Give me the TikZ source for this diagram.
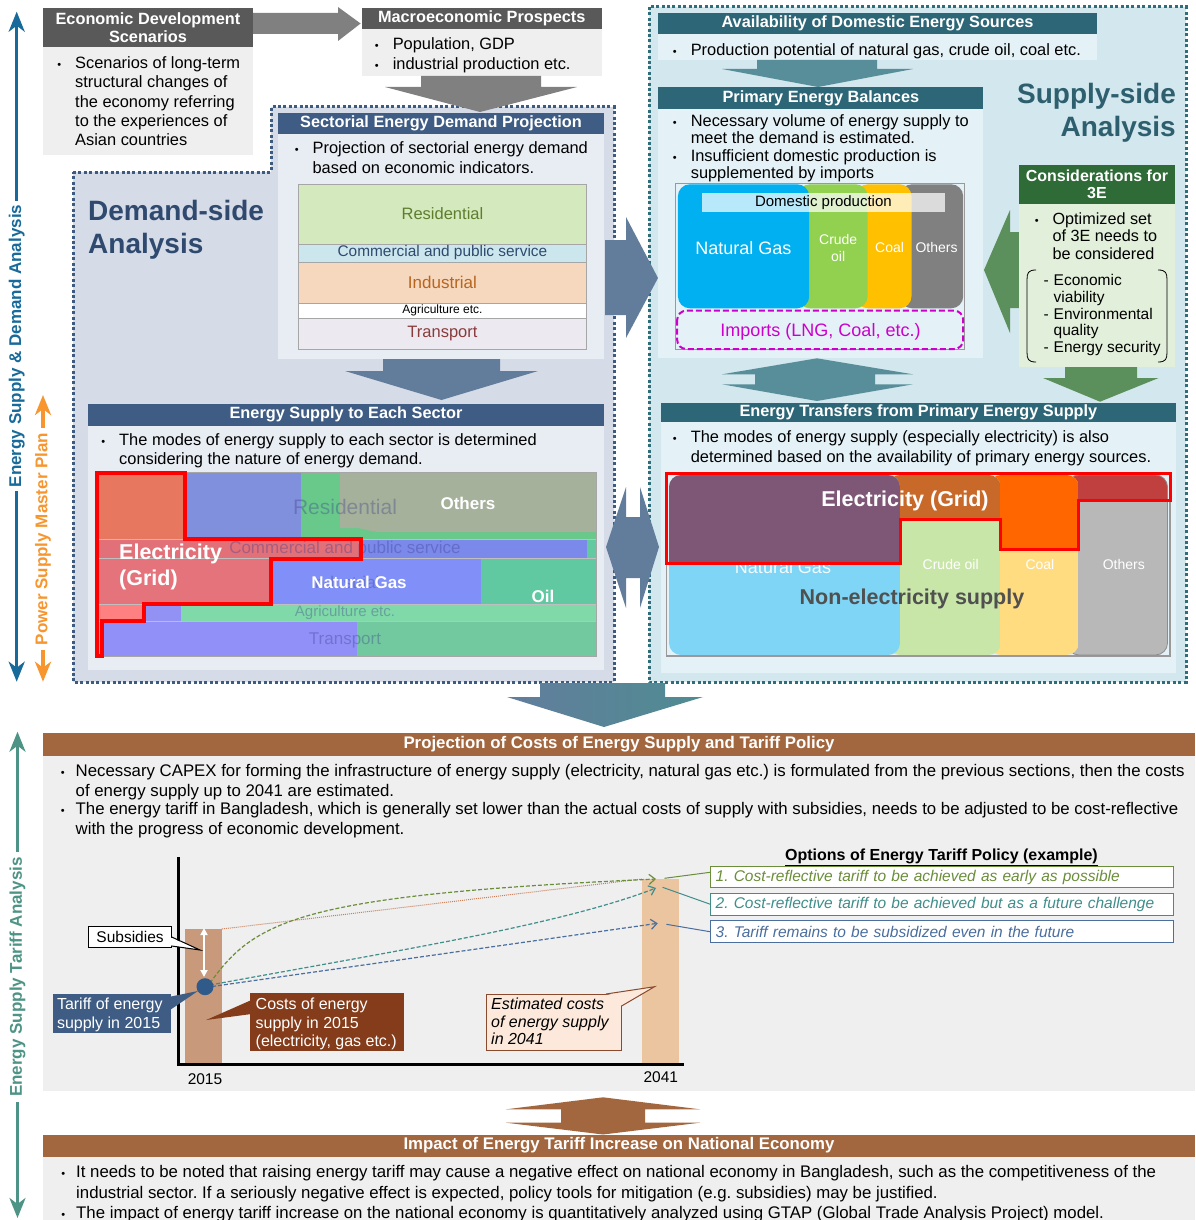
\documentclass[tikz,border=0pt]{standalone}
\usepackage{fontspec}
\setmainfont{Liberation Sans}
\usetikzlibrary{arrows.meta,calc}
\frenchspacing
\newcommand\myfs[2]{\fontsize{#1}{#2}\selectfont}
\newcommand\bul{\llap{{\myfs{11}{11}\textbullet}\hspace{14pt}}}
\newcommand\bulb{\llap{{\myfs{11}{11}\textbullet}\hspace{11pt}}}
\newcommand\dsh{\llap{-\hspace{5pt}}}
\definecolor{hdrgray}{HTML}{595959}
\definecolor{bodygray}{HTML}{EFEFEF}
\definecolor{agray}{HTML}{808080}
\definecolor{demhdr}{HTML}{3E5C84}
\definecolor{dembg}{HTML}{D5DCE8}
\definecolor{dembody}{HTML}{E8ECF3}
\definecolor{demtext}{HTML}{2F4A6E}
\definecolor{demdot}{HTML}{3D5A80}
\definecolor{suphdr}{HTML}{2D6777}
\definecolor{supbg}{HTML}{D2E7EE}
\definecolor{supbody}{HTML}{E4F1F7}
\definecolor{suptext}{HTML}{2E5F6E}
\definecolor{supdot}{HTML}{2E6E7A}
\definecolor{slate}{HTML}{627D9C}
\definecolor{slate2}{HTML}{4F8C92}
\definecolor{tealarr}{HTML}{588E99}
\definecolor{greenarr}{HTML}{5B8F5B}
\definecolor{greenhdr}{HTML}{2E6B37}
\definecolor{greenbody}{HTML}{E2EFDA}
\definecolor{brownh}{HTML}{A3673F}
\definecolor{browndk}{HTML}{843C1A}
\definecolor{bar1}{HTML}{C8997A}
\definecolor{bar2}{HTML}{EBC4A0}
\definecolor{peach}{HTML}{FCE9DC}
\definecolor{peachbd}{HTML}{8B4A2B}
\definecolor{axisblue}{HTML}{176A9A}
\definecolor{axisorange}{HTML}{F7962F}
\definecolor{axisteal}{HTML}{4E9486}
\definecolor{optgreen}{HTML}{6B8E3A}
\definecolor{optteal}{HTML}{3F8E8A}
\definecolor{optblue}{HTML}{4A6E9E}
\definecolor{dotblue}{HTML}{2F5A8A}
\definecolor{brdot}{HTML}{C87F5A}
\definecolor{ngcyan}{HTML}{00B0F0}
\definecolor{oilgreen}{HTML}{92D050}
\definecolor{coalyel}{HTML}{FFC000}
\definecolor{magent}{HTML}{CC00CC}
\definecolor{fainttx}{HTML}{3A3A8A}
\begin{document}
\begin{tikzpicture}[x=1pt,y=-1pt,
  box/.style={rectangle,inner sep=0pt,outer sep=0pt,anchor=north west},
  hdr/.style={box,text=white,font=\bfseries\myfs{16.3}{18},align=center},
  hdrb/.style={box,text=white,font=\bfseries\myfs{16.8}{19},align=center},
  para/.style={anchor=north west,inner sep=0pt,align=left,font=\myfs{16.4}{19.5}},
  lbl/.style={inner sep=0pt,font=\myfs{16}{19}},
  faint/.style={inner sep=0pt,text=fainttx,text opacity=0.35},
  dotborder/.style={line width=3pt,dash pattern=on 3pt off 2.4pt},
  axarrow/.style={line width=3.2pt,-{Stealth[length=20pt,width=16pt,inset=6pt]}},
  axlabel/.style={inner sep=0pt,rotate=90,font=\bfseries\myfs{17}{20}},
  curvetip/.style={-{Straight Barb[length=6pt,width=10pt]}}
]
\useasboundingbox (0,0) rectangle (1195,1220);
\fill[white] (0,0) rectangle (1195,1220);

% ===== regions =====
\path[fill=dembg, draw=demdot, dotborder] (73,172) -- (271,172) -- (271,107) -- (614,107) -- (614,682) -- (73,682) -- cycle;
\path[fill=supbg, draw=supdot, dotborder] (649,7) rectangle (1186,682);

% ===== Economic development scenarios =====
\node[hdr, fill=hdrgray, minimum width=210pt, minimum height=39pt] (econh) at (43,8) {Economic Development\\Scenarios};
\node[box, fill=bodygray, minimum width=210pt, minimum height=108pt] (econb) at (43,47) {};
\node[para, font=\myfs{16.4}{19.4}] (econt) at (75,54.6) {\bul\strut Scenarios of long-term\\structural changes of\\the economy referring\\to the experiences of\\Asian countries};

% ===== Macroeconomic prospects =====
\node[hdr, fill=hdrgray, minimum width=239.5pt, minimum height=21pt] (macroh) at (362,8) {Macroeconomic Prospects};
\node[box, fill=bodygray, minimum width=239.5pt, minimum height=47pt] (macrob) at (362,29) {};
\node[para, font=\myfs{16.4}{20}] (macrot) at (392.6,35.5) {\bul\strut Population, GDP\\\bul industrial production etc.};

% gray arrows
\fill[agray] (253,13) -- (338,13) -- (338,7) -- (360.6,23.5) -- (338,41) -- (338,34) -- (253,34) -- cycle;
\fill[agray] (421,76) -- (541,76) -- (541,87) -- (577,87) -- (480,112) -- (385,87) -- (421,87) -- cycle;

% ===== Sectorial energy demand projection =====
\node[hdr, fill=demhdr, minimum width=326pt, minimum height=21pt] (sech) at (278,113) {Sectorial Energy Demand Projection};
\node[box, fill=dembody, minimum width=326pt, minimum height=225pt] (secb) at (278,134) {};
\node[para, font=\myfs{16.4}{19.6}] (sect) at (312.4,139.5) {\bul\strut Projection of sectorial energy demand\\based on economic indicators.};
\node[box, fill={rgb,255:red,212;green,233;blue,189}, draw=black!35, minimum width=287.9pt, minimum height=60pt, text={rgb,255:red,94;green,126;blue,46}, font=\myfs{16.5}{19}] (bres) at (298.5,183.7) {Residential};
\node[box, fill={rgb,255:red,204;green,230;blue,238}, draw=black!35, minimum width=287.9pt, minimum height=18pt, text=demtext, font=\myfs{15.4}{18}] (bcom) at (298.5,243.7) {\raisebox{-1.5pt}{Commercial and public service}};
\node[box, fill={rgb,255:red,246;green,216;blue,190}, draw=black!35, minimum width=287.9pt, minimum height=41pt, text={rgb,255:red,184;green,101;blue,30}, font=\myfs{17}{19}] (bind) at (298.5,261.7) {Industrial};
\node[box, fill=white, draw=black!35, minimum width=287.9pt, minimum height=15pt, font=\myfs{12}{14}] (bagr) at (298.5,302.7) {Agriculture etc.};
\node[box, fill={rgb,255:red,236;green,233;blue,240}, draw=black!35, minimum width=287.9pt, minimum height=31.6pt, text={rgb,255:red,138;green,59;blue,59}, font=\myfs{16.5}{19}] (btra) at (298.5,317.7) {Transport};

% slate down arrow
\fill[slate] (383,359) -- (500,359) -- (500,371) -- (538,371) -- (441.5,400) -- (345,371) -- (383,371) -- cycle;

% Demand-side label
\node[para, text=demtext, font=\bfseries\myfs{28}{33.3}] (demlbl) at (88,196.7) {\strut Demand-side\\Analysis};

% ===== Energy supply to each sector =====
\node[hdr, fill=demhdr, minimum width=516pt, minimum height=22pt] (esh) at (88,403.5) {Energy Supply to Each Sector};
\node[box, fill=dembody, minimum width=516pt, minimum height=244.5pt] (esb) at (88,425.5) {};
\node[para, font=\myfs{16.4}{18.5}] (est) at (119,432.5) {\bul\strut The modes of energy supply to each sector is determined\\considering the nature of energy demand.};

% chart (demand)
\fill[fill={rgb,255:red,232;green,119;blue,95}] (96,472) rectangle (185,539);
\fill[fill={rgb,255:red,129;green,144;blue,220}] (185,472) rectangle (301,539);
\fill[fill={rgb,255:red,104;green,201;blue,138}] (301,472) rectangle (596,539);
\fill[fill={rgb,255:red,165;green,177;blue,154}] (340,472) -- (596,472) -- (596,532) -- (380,532) .. controls (370,532) and (364,528) .. (356,528) -- (340,528) -- cycle;
\fill[fill={rgb,255:red,226;green,112;blue,121}] (96,539) rectangle (361,558);
\fill[fill={rgb,255:red,123;green,137;blue,234}] (361,539) rectangle (587,558);
\fill[fill={rgb,255:red,98;green,201;blue,160}] (587,539) rectangle (596,558);
\fill[fill={rgb,255:red,228;green,115;blue,124}] (96,558) rectangle (271,604);
\fill[fill={rgb,255:red,128;green,144;blue,248}] (271,558) rectangle (481,604);
\fill[fill={rgb,255:red,96;green,201;blue,162}] (481,558) rectangle (596,604);
\fill[fill={rgb,255:red,255;green,128;blue,128}] (96,604) rectangle (144,621);
\fill[fill={rgb,255:red,146;green,146;blue,244}] (144,604) rectangle (181,621);
\fill[fill={rgb,255:red,128;green,217;blue,168}] (181,604) rectangle (596,621);
\fill[fill={rgb,255:red,255;green,128;blue,128}] (96,621) rectangle (102,656);
\fill[fill={rgb,255:red,144;green,144;blue,248}] (102,621) rectangle (357,656);
\fill[fill={rgb,255:red,114;green,201;blue,160}] (357,621) rectangle (596,656);
\draw[black!25, line width=0.6pt] (96,539) -- (596,539) (96,558) -- (596,558) (96,604) -- (596,604) (96,621) -- (596,621);
\draw[black!35, line width=0.8pt] (96,472) rectangle (596,656);
\node[faint, font=\myfs{21}{24}] (fres) at (345,507) {Residential};
\node[faint, font=\myfs{17}{20}] (fcom) at (345,549) {Commercial and public service};
\node[faint, font=\myfs{17}{20}] (find) at (345,582) {Industrial};
\node[faint, font=\myfs{15}{18}] (fagr) at (345,613) {Agriculture etc.};
\node[faint, font=\myfs{17}{20}] (ftra) at (345,640) {Transport};
\draw[red, line width=3.5pt, line join=miter] (97,473) -- (185,473) -- (185,539) -- (361,539) -- (361,559) -- (271,559) -- (271,604) -- (144,604) -- (144,621) -- (102,621) -- (102,656) -- (97,656) -- cycle;
\node[para, text=white, font=\bfseries\myfs{21.5}{26}] (delec) at (119,541) {\strut Electricity\\(Grid)};
\node[lbl, text=white, font=\bfseries\myfs{17}{20}] (dng) at (359,582) {Natural Gas};
\node[lbl, text=white, font=\bfseries\myfs{17}{20}] (doil) at (543,596) {Oil};
\node[lbl, text=white, font=\bfseries\myfs{17}{20}] (doth) at (468,503) {Others};

% connecting arrows between demand and supply
\fill[slate] (605,240) -- (626,240) -- (626,217) -- (658,278) -- (626,338) -- (626,315) -- (605,315) -- cycle;
\fill[slate] (606,547) -- (626,487) -- (626,517) -- (640,517) -- (640,487) -- (659,547) -- (640,608) -- (640,578) -- (626,578) -- (626,608) -- cycle;

% ===== Supply side =====
\node[hdr, fill=suphdr, minimum width=438.2pt, minimum height=21.6pt] (avh) at (658.4,12.7) {Availability of Domestic Energy Sources};
\node[box, fill=supbody, minimum width=438.2pt, minimum height=25.7pt] (avb) at (658.4,34.3) {};
\node[para] (avt) at (690.6,41.2) {\bul\strut Production potential of natural gas, crude oil, coal etc.};
\fill[tealarr] (757,60) -- (877,60) -- (877,69) -- (913,69) -- (818,87) -- (722,69) -- (757,69) -- cycle;

\node[hdr, fill=suphdr, minimum width=325pt, minimum height=21.7pt] (pebh) at (658.4,87.3) {Primary Energy Balances};
\node[box, fill=supbody, minimum width=325pt, minimum height=249pt] (pebb) at (658.4,109) {};
\node[para, font=\myfs{16.4}{17.5}] (pebt) at (690.6,114) {\bul\strut Necessary volume of energy supply to\\meet the demand is estimated.\\\bul Insufficient domestic production is\\supplemented by imports};
\draw[black!40, line width=0.8pt] (675.4,183.3) rectangle (963.9,349.3);
\fill[agray, rounded corners=12pt] (900,184.3) rectangle (963.2,308.3);
\fill[coalyel, rounded corners=12pt] (856,184.3) rectangle (911.5,308.3);
\fill[oilgreen, rounded corners=12pt] (798,184.3) rectangle (867.6,308.3);
\fill[ngcyan, rounded corners=12pt] (677.9,184.3) rectangle (809.2,308.3);
\fill[white, opacity=0.72] (702,193.3) rectangle (945,211.7);
\node[lbl, font=\myfs{15}{18}] (dprod) at (823.4,203) {Domestic production};
\node[lbl, text=white, font=\myfs{18}{21}] (png) at (743.4,247.7) {Natural Gas};
\node[lbl, text=white, font=\myfs{14}{17.7}, align=center] (poil) at (838.2,248) {Crude\\oil};
\node[lbl, text=white, font=\myfs{14}{17}] (pcoal) at (889.6,247.3) {Coal};
\node[lbl, text=white, font=\myfs{14}{17}] (poth) at (936.6,247.3) {Others};
\draw[magent, line width=2pt, dash pattern=on 6pt off 3pt, rounded corners=9pt] (677.2,310.7) rectangle (963.2,349);
\node[lbl, text=magent, font=\myfs{18}{21}] (pimp) at (820.5,331.7) {Imports (LNG, Coal, etc.)};

\node[para, anchor=north east, align=right, text=suptext, font=\bfseries\myfs{28}{33.4}] (suplbl) at (1176,79.9) {\strut Supply-side\\Analysis};

% considerations
\fill[greenarr] (984,270) -- (1010,210) -- (1010,232) -- (1020,232) -- (1020,308) -- (1010,308) -- (1010,333) -- cycle;
\node[hdr, fill=greenhdr, minimum width=156.2pt, minimum height=39pt, font=\bfseries\myfs{16}{17}] (conh) at (1018.8,165) {Considerations for\\3E};
\node[box, fill=greenbody, minimum width=156.2pt, minimum height=163pt] (conb) at (1018.8,204) {};
\node[para, font=\myfs{16.2}{17.5}] (cont) at (1052.4,211.8) {\bul\strut Optimized set\\of 3E needs to\\be considered};
\node[para, font=\myfs{15.5}{16.7}] (coni) at (1053.5,274) {\dsh\strut Economic\\viability\\\dsh Environmental\\quality\\\dsh Energy security};
\draw[line width=0.8pt] (1036,270) .. controls (1028,270) and (1027,273) .. (1027,280) -- (1027,352) .. controls (1027,359) and (1028,362) .. (1036,362);
\draw[line width=0.8pt] (1158,270) .. controls (1166,270) and (1167,273) .. (1167,280) -- (1167,352) .. controls (1167,359) and (1166,362) .. (1158,362);
\fill[greenarr] (1065,367) -- (1137,367) -- (1137,378) -- (1158.6,378) -- (1100,401.7) -- (1043,378) -- (1065,378) -- cycle;

% up-down teal arrow
\fill[tealarr] (817,358.3) -- (913,374.3) -- (875,374.3) -- (875,384.3) -- (913,384.3) -- (817,401) -- (722,384.3) -- (755,384.3) -- (755,374.3) -- (722,374.3) -- cycle;

% energy transfers
\node[hdr, fill=suphdr, minimum width=515.8pt, minimum height=19pt] (eth) at (660.5,403) {Energy Transfers from Primary Energy Supply};
\node[box, fill=supbody, minimum width=515.8pt, minimum height=251pt] (etb) at (660.5,422) {};
\node[para, font=\myfs{16.4}{20}] (ett) at (690.6,428.2) {\bul\strut The modes of energy supply (especially electricity) is also\\determined based on the availability of primary energy sources.};
\draw[black!40, line width=1.2pt] (666.4,474) rectangle (1170,656);
\begin{scope}
\clip[rounded corners=12pt] (1067,475) rectangle (1167.5,655);
\fill[fill={rgb,255:red,184;green,184;blue,184}] (1067,475) rectangle (1167.5,655);
\fill[fill={rgb,255:red,192;green,64;blue,64}] (1067,475) rectangle (1167.5,500.7);
\end{scope}
\draw[black!45, line width=0.8pt, rounded corners=12pt] (1067,475) rectangle (1167.5,655);
\begin{scope}
\clip[rounded corners=12pt] (989,475) rectangle (1078.7,655);
\fill[fill={rgb,255:red,255;green,220;blue,127}] (989,475) rectangle (1078.7,655);
\fill[fill={rgb,255:red,255;green,102;blue,0}] (989,475) rectangle (1078.7,549.3);
\end{scope}
\begin{scope}
\clip[rounded corners=12pt] (888,475) rectangle (1000.7,655);
\fill[fill={rgb,255:red,201;green,230;blue,169}] (888,475) rectangle (1000.7,655);
\fill[fill={rgb,255:red,200;green,105;blue,42}] (888,475) rectangle (1000.7,519.3);
\end{scope}
\begin{scope}
\clip[rounded corners=12pt] (669,475) rectangle (900,655);
\fill[fill={rgb,255:red,126;green,213;blue,246}] (669,475) rectangle (900,655);
\node[lbl, text=white, text opacity=0.9, font=\myfs{18}{21}] (tng) at (783,567) {Natural Gas};
\fill[fill={rgb,255:red,126;green,86;blue,118}] (669,475) rectangle (900,563.3);
\end{scope}
\draw[red, line width=3pt, line join=miter] (666.4,473.3) -- (1170,473.3) -- (1170,500.7) -- (1078.7,500.7) -- (1078.7,549.3) -- (1000.7,549.3) -- (1000.7,519.3) -- (900,519.3) -- (900,563.3) -- (666.4,563.3) -- cycle;
\node[lbl, text=white, font=\bfseries\myfs{21.5}{25}] (telec) at (905,501) {Electricity (Grid)};
\node[lbl, text=white, font=\myfs{14}{17}] (toil) at (950.7,564.3) {Crude oil};
\node[lbl, text=white, font=\myfs{14}{17}] (tcoal) at (1039.9,564.3) {Coal};
\node[lbl, text=white, font=\myfs{14}{17}] (toth) at (1123.8,564.3) {Others};
\node[lbl, text={rgb,255:red,80;green,80;blue,80}, font=\bfseries\myfs{21.5}{25}] (tnon) at (912,599) {Non-electricity supply};

% big gradient arrow
\shade[left color=slate, right color=slate2] (540,683) -- (665,683) -- (665,697) -- (703,697) -- (604,727) -- (507,697) -- (540,697) -- cycle;

% ===== Projection of costs =====
\node[hdrb, fill=brownh, minimum width=1152pt, minimum height=22.5pt] (projh) at (43,733) {Projection of Costs of Energy Supply and Tariff Policy};
\node[box, fill=bodygray, minimum width=1152pt, minimum height=335.5pt] (projb) at (43,755.5) {};
\node[para, font=\myfs{16.8}{20}] (projt1) at (75.5,762.2) {\bulb\strut Necessary CAPEX for forming the infrastructure of energy supply (electricity, natural gas etc.) is formulated from the previous sections, then the costs\\of energy supply up to 2041 are estimated.};
\node[para, font=\myfs{16.8}{20}] (projt2) at (75.5,800.5) {\bulb\strut The energy tariff in Bangladesh, which is generally set lower than the actual costs of supply with subsidies, needs to be adjusted to be cost-reflective\\with the progress of economic development.};

% chart
\fill[bar1] (185.2,929) rectangle (221.8,1064);
\fill[bar2] (641.8,879) rectangle (679,1064);
\draw[brdot, line width=1pt, dash pattern=on 1pt off 1pt] (221.8,929) -- (641.8,879);
\draw[optgreen, line width=1.2pt, dash pattern=on 4pt off 2pt, curvetip] (210,983) .. controls (255,920) and (300,895) .. (656,879);
\draw[optteal, line width=1.2pt, dash pattern=on 4pt off 2pt, curvetip] (210,985) .. controls (400,950) and (560,925) .. (656,888);
\draw[optblue, line width=1.2pt, dash pattern=on 4pt off 2pt, curvetip] (212,986.5) -- (657.8,923.3);
\draw[white, line width=1.8pt, {Triangle[length=7pt,width=7pt]}-{Triangle[length=7pt,width=7pt]}] (204,928) -- (204,977);
\node[circle, fill=dotblue, minimum size=17pt, inner sep=0pt] (dot) at (205,986.7) {};
\node[lbl, font=\myfs{15.5}{18}] (y2015) at (205,1079.3) {2015};
\node[lbl, font=\myfs{15.5}{18}] (y2041) at (660.8,1077) {2041};
\draw[line width=3pt] (178,857) -- (178,1064) -- (684,1064);

% callouts
\node[box, draw=black, fill=white, line width=1pt, minimum width=83.3pt, minimum height=21pt, font=\myfs{15.5}{18}] (subs) at (88.4,926.7) {Subsidies};
\fill[white] (170.5,937.5) -- (200,950) -- (170.5,945.5) -- cycle;
\draw[line width=1pt] (171.7,937) -- (200,950) -- (171.7,946);

\node[box, fill=demhdr, minimum width=118.7pt, minimum height=38.7pt] (tarb) at (52.6,994) {};
\fill[demhdr] (170,996.7) -- (198,991) -- (170,1010) -- cycle;
\node[para, text=white, font=\myfs{16}{18.4}] (tart) at (56.8,996.9) {\strut Tariff of energy\\supply in 2015};

\node[box, fill=browndk, minimum width=153.6pt, minimum height=57.4pt] (costb) at (250.4,993.3) {};
\fill[browndk] (251.5,1000) -- (206.2,1020) -- (251.5,1014) -- cycle;
\node[para, text=white, font=\myfs{16}{18.35}] (costt) at (255.5,996.7) {\strut Costs of energy\\supply in 2015\\(electricity, gas etc.)};

\node[box, fill=peach, draw=peachbd, line width=1pt, minimum width=135.6pt, minimum height=56.7pt] (estb) at (486,994) {};
\fill[peach] (606,995) -- (654.5,986.7) -- (620.6,1006) -- (620.6,995) -- cycle;
\draw[peachbd, line width=1pt] (606,994) -- (654.5,986.7) -- (621.6,1006);
\node[para, font=\itshape\myfs{16}{17.6}] (estt) at (491,997.2) {\strut Estimated costs\\of energy supply\\in 2041};

% options
\node[inner sep=0pt, font=\bfseries\myfs{16}{19}] (optt) at (941.5,857) {\underline{Options of Energy Tariff Policy (example)}};
\node[box, draw=optgreen, fill=white, line width=1pt, minimum width=463.8pt, minimum height=21pt, text width=452.4pt, inner xsep=5.7pt, align=left, text=optgreen, font=\itshape\myfs{15.5}{18}] (opt1) at (710,866.7) {1. Cost-reflective tariff to be achieved as early as possible};
\node[box, draw=optteal, fill=white, line width=1pt, minimum width=463.8pt, minimum height=21.7pt, text width=452.4pt, inner xsep=5.7pt, align=left, text=optteal, font=\itshape\myfs{15.5}{18}] (opt2) at (710,893.3) {2. Cost-reflective tariff to be achieved but as a future challenge};
\node[box, draw=optblue, fill=white, line width=1pt, minimum width=463.8pt, minimum height=22pt, text width=452.4pt, inner xsep=5.7pt, align=left, text=optblue, font=\itshape\myfs{15.5}{18}] (opt3) at (710,920.7) {3. Tariff remains to be subsidized even in the future};
\coordinate (e1) at (664.5,878.3);
\coordinate (e2) at (662.6,887.3);
\coordinate (e3) at (666.4,924.3);
\draw[optgreen, line width=1pt] ([yshift=4.9pt]opt1.west) -- (e1);
\draw[optteal, line width=1pt] (opt2.west) -- (e2);
\draw[optblue, line width=1pt] (opt3.west) -- (e3);

% brown up-down arrow
\fill[brownh] (603,1097.3) -- (700,1109.3) -- (645,1109.3) -- (645,1122.7) -- (700,1122.7) -- (603,1134.5) -- (506,1122.7) -- (561,1122.7) -- (561,1109.3) -- (506,1109.3) -- cycle;

% ===== Impact =====
\node[hdrb, fill=brownh, minimum width=1152pt, minimum height=22pt] (imph) at (43,1134.5) {Impact of Energy Tariff Increase on National Economy};
\node[box, fill=bodygray, minimum width=1152pt, minimum height=64pt] (impb) at (43,1156.5) {};
\node[para, font=\myfs{16.8}{20.3}] (impt) at (76,1163.5) {\bulb\strut It needs to be noted that raising energy tariff may cause a negative effect on national economy in Bangladesh, such as the competitiveness of the\\industrial sector. If a seriously negative effect is expected, policy tools for mitigation (e.g. subsidies) may be justified.\\\bulb The impact of energy tariff increase on the national economy is quantitatively analyzed using GTAP (Global Trade Analysis Project) model.};

% ===== left axis arrows =====
\node[axlabel, text=axisblue] (axb) at (16.7,346) {Energy Supply \& Demand Analysis};
\draw[axisblue, axarrow] (16.7,201) -- (16.7,11.7);
\draw[axisblue, axarrow] (16.7,491) -- (16.7,681.7);
\node[axlabel, text=axisorange] (axo) at (43,539) {Power Supply Master Plan};
\draw[axisorange, axarrow] (43,428) -- (43,395);
\draw[axisorange, axarrow] (43,650) -- (43,681.7);
\node[axlabel, text=axisteal] (axt) at (17.5,977) {Energy Supply Tariff Analysis};
\draw[axisteal, axarrow] (17.5,852) -- (17.5,731.7);
\draw[axisteal, axarrow] (17.5,1102) -- (17.5,1218);
\end{tikzpicture}
\end{document}
